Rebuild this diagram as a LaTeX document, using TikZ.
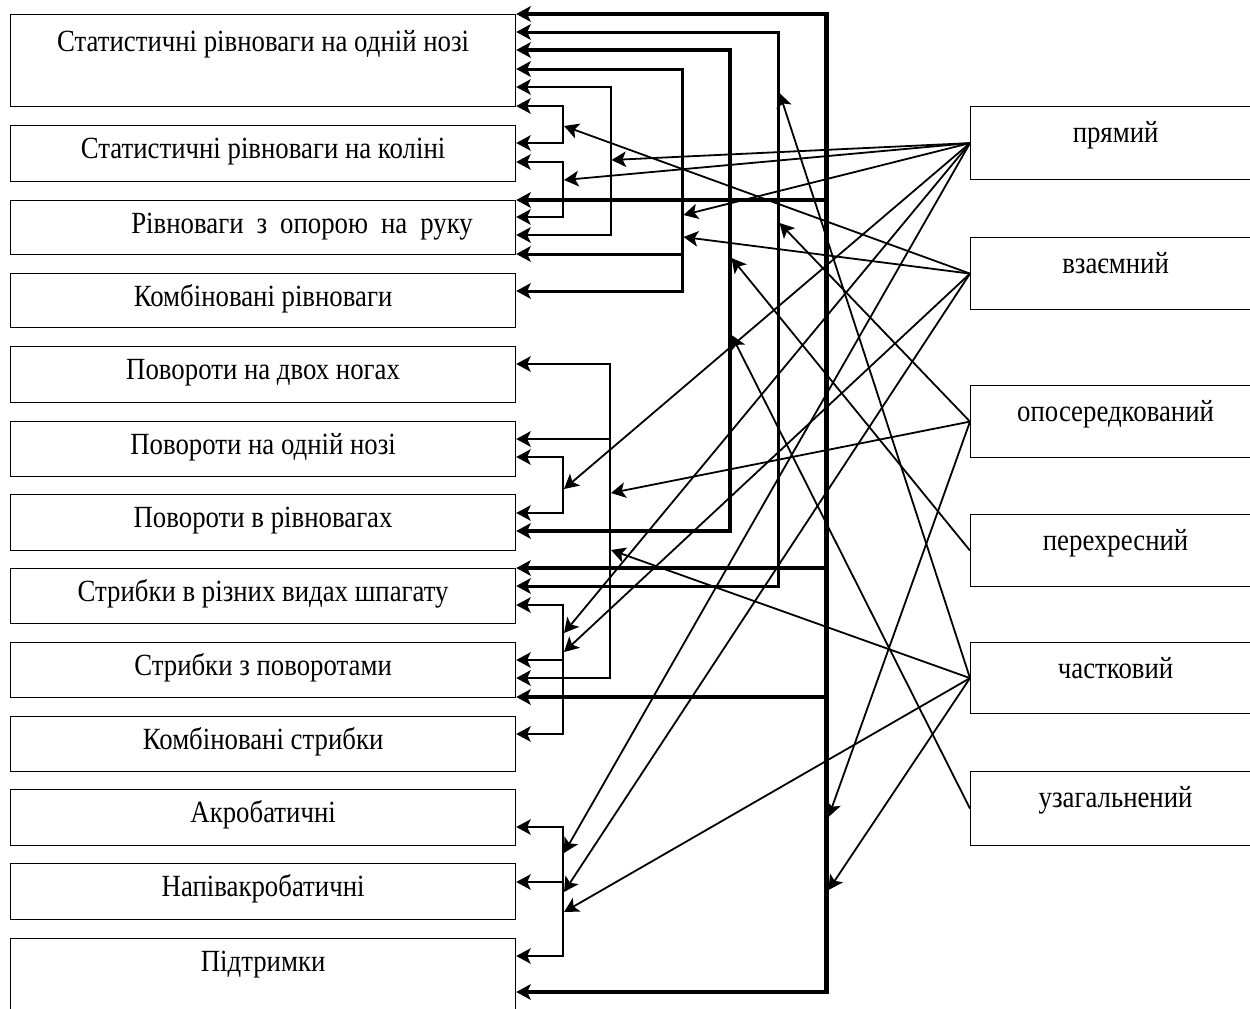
\documentclass[tikz,border=0pt]{standalone}
\usepackage{fontspec}
\setmainfont{Liberation Serif}
\usetikzlibrary{arrows.meta}
\newcommand{\tx}[1]{\scalebox{1}[1.15]{#1}}
\tikzset{
  x=1pt, y=-1pt,
  hd/.tip={Stealth[length=14.5pt,width=15.5pt,inset=3.5pt]},
  lbox/.style={draw, line width=1.2pt, minimum width=505pt, inner xsep=0pt, inner ysep=0pt,
    anchor=north west, font=\fontsize{26.8}{30}\selectfont, text height=33pt},
  rbox/.style={draw, line width=1.2pt, minimum width=290pt, inner xsep=0pt, inner ysep=0pt,
    anchor=north west, font=\fontsize{26.8}{30}\selectfont, text height=36pt},
  busA/.style={line width=4.2pt},
  busB/.style={line width=3pt},
  busC/.style={line width=3.4pt},
  busD/.style={line width=3pt},
  busE/.style={line width=2pt},
  busH/.style={line width=2.5pt},
  busT/.style={line width=1.8pt},
  diag/.style={line width=1.8pt, -hd},
}
\begin{document}
\begin{tikzpicture}
\useasboundingbox (0,0) rectangle (1250,1009);
\clip (0,0) rectangle (1250,1009);
% left boxes
\node[lbox, text height=37pt, text depth=55pt] (l1) at (10,14) {\tx{Статистичні рівноваги на одній нозі}};
\node[lbox, text depth=23pt] (l2) at (10,125) {\tx{Статистичні рівноваги на коліні}};
\node[lbox, text depth=21pt] (l3) at (10,200) {\hspace*{78pt}\tx{Рівноваги\hspace{13pt}з\hspace{13pt}опорою\hspace{13pt}на\hspace{13pt}руку}};
\node[lbox, text depth=21pt] (l4) at (10,273) {\tx{Комбіновані рівноваги}};
\node[lbox, text depth=23pt] (l5) at (10,346) {\tx{Повороти на двох ногах}};
\node[lbox, text depth=22pt] (l6) at (10,421) {\tx{Повороти на одній нозі}};
\node[lbox, text depth=23pt] (l7) at (10,494) {\tx{Повороти в рівновагах}};
\node[lbox, text depth=22pt] (l8) at (10,568) {\tx{Стрибки в різних видах шпагату}};
\node[lbox, text depth=22pt] (l9) at (10,642) {\tx{Стрибки з поворотами}};
\node[lbox, text depth=22pt] (l10) at (10,716) {\tx{Комбіновані стрибки}};
\node[lbox, text depth=23pt] (l11) at (10,789) {\tx{Акробатичні}};
\node[lbox, text depth=23pt] (l12) at (10,863) {\tx{Напівакробатичні}};
\node[lbox, text depth=80pt] (l13) at (10,938) {\tx{Підтримки}};
% right boxes
\node[rbox, text depth=37pt] (r1) at (970,106) {\tx{прямий}};
\node[rbox, text depth=36pt] (r2) at (970,237) {\tx{взаємний}};
\node[rbox, text depth=36pt] (r3) at (970,385) {\tx{опосередкований}};
\node[rbox, text depth=36pt] (r4) at (970,514) {\tx{перехресний}};
\node[rbox, text depth=35pt] (r5) at (970,642) {\tx{частковий}};
\node[rbox, text depth=38pt] (r6) at (970,771) {\tx{узагальнений}};
% bus junction coordinates
\coordinate (A1) at (826.5,14);  \coordinate (A2) at (826.5,200); \coordinate (A3) at (826.5,568);
\coordinate (A4) at (826.5,697); \coordinate (A5) at (826.5,992);
\coordinate (B1) at (778,32);    \coordinate (B2) at (778,586);
\coordinate (C1) at (730,50);    \coordinate (C2) at (730,531);
\coordinate (D1) at (682,69);    \coordinate (D2) at (682,254);   \coordinate (D3) at (682,291);
\coordinate (E1) at (610.5,87);  \coordinate (E2) at (610.5,235);
\coordinate (F1) at (563,106);   \coordinate (F2) at (563,143);
\coordinate (G1) at (563,162);   \coordinate (G2) at (563,217);
\coordinate (H1) at (610,364);   \coordinate (H2) at (610,439);   \coordinate (H3) at (610,678);
\coordinate (I1) at (563,457);   \coordinate (I2) at (563,513);
\coordinate (J1) at (563,605);   \coordinate (J2) at (563,660);   \coordinate (J3) at (563,734);
\coordinate (K1) at (563,827);   \coordinate (K2) at (563,882);   \coordinate (K3) at (563,956);
% buses
\draw[busA,hd-hd] (A1 -| l1.east) -- (A1) -- (A5) -- (A5 -| l13.east);
\draw[busA,-hd] (A2) -- (A2 -| l3.east);
\draw[busA,-hd] (A3) -- (A3 -| l8.east);
\draw[busA,-hd] (A4) -- (A4 -| l9.east);
\draw[busB,hd-hd] (B1 -| l1.east) -- (B1) -- (B2) -- (B2 -| l8.east);
\draw[busC,hd-hd] (C1 -| l1.east) -- (C1) -- (C2) -- (C2 -| l7.east);
\draw[busD,hd-hd] (D1 -| l1.east) -- (D1) -- (D3) -- (D3 -| l4.east);
\draw[busD,-hd] (D2) -- (D2 -| l3.east);
\draw[busE,hd-hd] (E1 -| l1.east) -- (E1) -- (E2) -- (E2 -| l3.east);
\draw[busT,hd-hd] (F1 -| l1.east) -- (F1) -- (F2) -- (F2 -| l2.east);
\draw[busT,hd-hd] (G1 -| l2.east) -- (G1) -- (G2) -- (G2 -| l3.east);
\draw[busH,hd-hd] (H1 -| l5.east) -- (H1) -- (H3) -- (H3 -| l9.east);
\draw[busH,-hd] (H2) -- (H2 -| l6.east);
\draw[busT,hd-hd] (I1 -| l6.east) -- (I1) -- (I2) -- (I2 -| l7.east);
\draw[busT,hd-hd] (J1 -| l8.east) -- (J1) -- (J3) -- (J3 -| l10.east);
\draw[busT,-hd] (J2) -- (J2 -| l9.east);
\draw[busT,hd-hd] (K1 -| l11.east) -- (K1) -- (K3) -- (K3 -| l13.east);
\draw[busT,-hd] (K2) -- (K2 -| l12.east);
% arrow tips on buses
\coordinate (t1) at (564,126);  \coordinate (t2) at (611.5,160); \coordinate (t3) at (564,180);
\coordinate (t4) at (683.5,215); \coordinate (t5) at (683.5,237); \coordinate (t6) at (779.5,93);
\coordinate (t7) at (731.5,258); \coordinate (t8) at (779.5,223); \coordinate (t9) at (731.5,335);
\coordinate (t10) at (564,489); \coordinate (t11) at (611,493); \coordinate (t12) at (611,550);
\coordinate (t13) at (564,633); \coordinate (t14) at (564,652); \coordinate (t15) at (564,853);
\coordinate (t16) at (564,892); \coordinate (t17) at (564,912); \coordinate (t18) at (828.5,817);
\coordinate (t19) at (828.5,890);
% diagonal connectors
\draw[diag] (r1.west) -- (t2);
\draw[diag] (r1.west) -- (t3);
\draw[diag] (r1.west) -- (t4);
\draw[diag] (r1.west) -- (t10);
\draw[diag] (r1.west) -- (t13);
\draw[diag] (r1.west) -- (t15);
\draw[diag] (r2.west) -- (t1);
\draw[diag] (r2.west) -- (t5);
\draw[diag] (r2.west) -- (t14);
\draw[diag] (r2.west) -- (t16);
\draw[diag] (r3.west) -- (t8);
\draw[diag] (r3.west) -- (t11);
\draw[diag] (r3.west) -- (t18);
\draw[diag] (r4.west) -- (t7);
\draw[diag] (r5.west) -- (t6);
\draw[diag] (r5.west) -- (t12);
\draw[diag] (r5.west) -- (t17);
\draw[diag] (r5.west) -- (t19);
\draw[diag] (r6.west) -- (t9);
\end{tikzpicture}
\end{document}
